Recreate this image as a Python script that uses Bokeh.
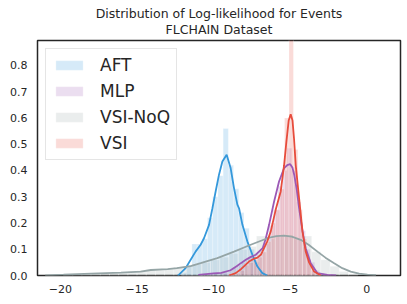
from bokeh.plotting import figure
from bokeh.models import Range1d, Title, Legend, LegendItem, FixedTicker
from bokeh.embed import file_html
from bokeh.resources import INLINE
import numpy as np

# ---------------- data ----------------
series_names = ["AFT", "MLP", "VSI-NoQ", "VSI"]

# histograms: first edge, bin width, bar heights (density)
aft_bin_start = -12.1
aft_bin_width = 0.34
aft_hist = [0.01, 0.04, 0.12, 0.12, 0.14, 0.22, 0.30, 0.38, 0.56, 0.42, 0.33, 0.24, 0.18, 0.10, 0.05, 0.02]

mlp_bin_start = -10.9
mlp_bin_width = 0.30
mlp_hist = [0.004, 0.006, 0.008, 0.010, 0.012, 0.014, 0.02, 0.03, 0.04, 0.05, 0.065, 0.07, 0.08, 0.09,
            0.12, 0.19, 0.25, 0.34, 0.40, 0.485, 0.40, 0.28, 0.17, 0.10, 0.05, 0.02, 0.008, 0.003]

noq_bin_start = -19.8
noq_bin_width = 0.60
noq_hist = [0.003, 0.004, 0.005, 0.006, 0.008, 0.010, 0.012, 0.015, 0.018, 0.022, 0.020, 0.025, 0.030,
            0.035, 0.045, 0.050, 0.060, 0.070, 0.085, 0.100, 0.110, 0.150, 0.140, 0.150, 0.155, 0.140,
            0.150, 0.090, 0.060, 0.035, 0.015, 0.005]

vsi_bin_start = -8.85
vsi_bin_width = 0.29
vsi_hist = [0.005, 0.01, 0.02, 0.04, 0.05, 0.06, 0.07, 0.09, 0.13, 0.20, 0.25, 0.33, 0.60, 0.95,
            0.48, 0.25, 0.14, 0.06, 0.02, 0.005]

# density curves
aft_kde_x = [-12.35, -12.26, -11.83, -11.5, -11.18, -10.85, -10.63, -10.3, -10.08, -9.87, -9.65, -9.43,
             -9.15, -8.89, -8.67, -8.45, -8.34, -8.12, -7.8, -7.47, -7.14, -6.82, -6.5]
aft_kde_y = [0.0, 0.003, 0.028, 0.06, 0.091, 0.117, 0.142, 0.193, 0.256, 0.32, 0.384, 0.434,
             0.46, 0.409, 0.333, 0.27, 0.256, 0.193, 0.13, 0.079, 0.034, 0.009, 0.0]

mlp_kde_x = [-11.0, -10.5, -10.0, -9.5, -8.9, -8.5, -8.2, -7.9, -7.6, -7.25, -6.8, -6.6, -6.38, -6.06,
             -5.73, -5.4, -5.2, -5.0, -4.85, -4.74, -4.58, -4.42, -4.25, -4.09, -3.99, -3.66, -3.22,
             -2.57, -2.0]
mlp_kde_y = [0.002, 0.005, 0.008, 0.01, 0.02, 0.035, 0.048, 0.06, 0.07, 0.079, 0.104, 0.14, 0.193, 0.28,
             0.358, 0.409, 0.42, 0.424, 0.41, 0.384, 0.33, 0.256, 0.19, 0.13, 0.104, 0.047, 0.009,
             0.002, 0.0]

noq_kde_x = [-21.0, -19.8, -18.0, -16.05, -14.77, -14.1, -13.0, -12.4, -11.5, -10.85, -9.76, -8.67,
             -7.58, -6.49, -5.9, -5.4, -4.9, -4.31, -3.8, -3.22, -2.7, -2.13, -1.6, -1.05, -0.5,
             0.04, 0.6]
noq_kde_y = [0.0005, 0.003, 0.007, 0.011, 0.015, 0.021, 0.024, 0.028, 0.036, 0.047, 0.066, 0.091,
             0.117, 0.142, 0.15, 0.152, 0.148, 0.136, 0.117, 0.091, 0.068, 0.047, 0.028, 0.015, 0.007,
             0.003, 0.001]

vsi_kde_x = [-9.0, -8.56, -8.2, -7.69, -7.4, -7.14, -6.9, -6.71, -6.5, -6.27, -5.95, -5.62, -5.4,
             -5.25, -5.1, -4.97, -4.85, -4.75, -4.64, -4.42, -4.2, -3.99, -3.77, -3.44, -3.0]
vsi_kde_y = [0.0, 0.009, 0.025, 0.053, 0.063, 0.068, 0.08, 0.104, 0.13, 0.168, 0.25, 0.32, 0.42,
             0.51, 0.59, 0.614, 0.59, 0.52, 0.42, 0.294, 0.168, 0.091, 0.05, 0.015, 0.0]

x_ticks = [-20, -15, -10, -5, 0]
y_ticks = [0.0, 0.1, 0.2, 0.3, 0.4, 0.5, 0.6, 0.7, 0.8]
title_line1 = "Distribution of Log-likelihood for Events"
title_line2 = "FLCHAIN Dataset"

colors = ["#3498db", "#9b59b6", "#95a5a6", "#e74c3c"]
TXT = "#262626"
FONT = "DejaVu Sans"

# ---------------- figure ----------------
p = figure(frame_width=363, frame_height=235, output_backend="svg", toolbar_location=None,
           x_range=Range1d(-21.5, 2.2), y_range=Range1d(0, 0.895),
           min_border_left=37, min_border_right=4, min_border_top=34, min_border_bottom=22)
p.background_fill_color = "white"
p.border_fill_color = "white"
p.outline_line_color = TXT
p.outline_line_width = 1.5
p.xgrid.visible = False
p.ygrid.visible = False

title_ok = False
try:
    t = Title(text=title_line1 + "\n" + title_line2, align="center", text_font=FONT,
              text_font_size="12.5px", text_font_style="normal", text_color=TXT,
              text_line_height=1.12, standoff=6)
    t.text_align = "center"
    p.title = t
    title_ok = True
except Exception:
    title_ok = False

if not title_ok:
    p.title.visible = False
    p.min_border_top = 39
    sub = Title(text=title_line2, align="center", text_font=FONT, text_font_size="12.5px",
                text_font_style="normal", text_color=TXT, standoff=9)
    main = Title(text=title_line1, align="center", text_font=FONT, text_font_size="12.5px",
                 text_font_style="normal", text_color=TXT, standoff=0)
    p.add_layout(sub, "above")
    p.add_layout(main, "above")

hists = [(aft_bin_start, aft_bin_width, aft_hist), (mlp_bin_start, mlp_bin_width, mlp_hist),
         (noq_bin_start, noq_bin_width, noq_hist), (vsi_bin_start, vsi_bin_width, vsi_hist)]
kdes = [(aft_kde_x, aft_kde_y), (mlp_kde_x, mlp_kde_y), (noq_kde_x, noq_kde_y), (vsi_kde_x, vsi_kde_y)]

items = []
for name, col, (start, w, h) in zip(series_names, colors, hists):
    h = np.array(h)
    left = start + w * np.arange(len(h))
    r = p.quad(left=left, right=left + w, bottom=0, top=h, fill_color=col, fill_alpha=0.2,
               line_color="white", line_alpha=0.35, line_width=0.8)
    items.append(LegendItem(label=name, renderers=[r]))

for col, (kx, ky) in zip(colors, kdes):
    p.line(kx, ky, line_color=col, line_width=1.8)

for ax in (p.xaxis[0], p.yaxis[0]):
    ax.axis_line_color = None
    ax.major_tick_line_color = None
    ax.minor_tick_line_color = None
    ax.major_tick_out = 0
    ax.major_tick_in = 0
    ax.major_label_text_font = FONT
    ax.major_label_text_font_size = "11px"
    ax.major_label_text_color = TXT

p.xaxis.ticker = FixedTicker(ticks=x_ticks)
p.xaxis.major_label_overrides = {t: (("\u2212" + str(abs(t))) if t < 0 else str(t)) for t in x_ticks}
p.xaxis.major_label_standoff = 9
p.yaxis.ticker = FixedTicker(ticks=y_ticks)
p.yaxis.major_label_overrides = {t: f"{t:.1f}" for t in y_ticks}
p.yaxis.major_label_standoff = 10

legend = Legend(items=items, location="top_left", margin=8, padding=6, spacing=6,
                glyph_width=34, glyph_height=12, label_height=20, label_standoff=14,
                label_text_font=FONT, label_text_font_size="17px", label_text_color=TXT,
                border_line_color="#cccccc", border_line_width=1, background_fill_alpha=0.8)
p.add_layout(legend, "center")

open("out.html", "w").write(file_html(p, INLINE))
